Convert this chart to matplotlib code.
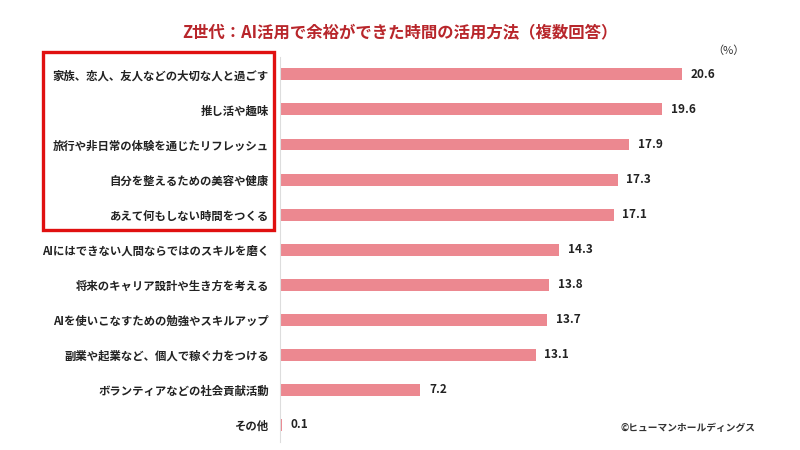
import matplotlib
matplotlib.use("Agg")
import matplotlib.pyplot as plt
from matplotlib.patches import Rectangle

plt.rcParams['font.family'] = ['Noto Sans CJK JP', 'DejaVu Sans']

categories = [
    "家族、恋人、友人などの大切な人と過ごす",
    "推し活や趣味",
    "旅行や非日常の体験を通じたリフレッシュ",
    "自分を整えるための美容や健康",
    "あえて何もしない時間をつくる",
    "AIにはできない人間ならではのスキルを磨く",
    "将来のキャリア設計や生き方を考える",
    "AIを使いこなすための勉強やスキルアップ",
    "副業や起業など、個人で稼ぐ力をつける",
    "ボランティアなどの社会貢献活動",
    "その他",
]
values = [20.6, 19.6, 17.9, 17.3, 17.1, 14.3, 13.8, 13.7, 13.1, 7.2, 0.1]
title = "Z世代：AI活用で余裕ができた時間の活用方法（複数回答）"
unit = "（%）"
credit = "©ヒューマンホールディングス"

bar_color = "#ec8890"
title_color = "#b8262b"

fig = plt.figure(figsize=(8, 4.5), dpi=100)
ax = fig.add_axes([0.35, 0.0167, 0.60, 0.857])

ypos = list(range(len(categories)))
ax.barh(ypos, values, height=0.34, color=bar_color, zorder=2)
ax.set_ylim(len(categories) - 0.5, -0.5)
ax.set_xlim(0, 24.6)

for y, v in zip(ypos, values):
    ax.text(v + 0.45, y, f"{v:.1f}", va="center", ha="left", fontsize=8.5,
            fontweight="bold", color="#222222")

ax.set_yticks(ypos)
ax.set_yticklabels(categories, fontsize=8.2, fontweight="bold", color="#222222")
ax.tick_params(axis="y", length=0, pad=8)
ax.set_xticks([])
for s in ["top", "right", "bottom"]:
    ax.spines[s].set_visible(False)
ax.spines["left"].set_color("#dddddd")
ax.spines["left"].set_linewidth(0.8)

fig.text(0.5, 0.927, title, ha="center", va="center", fontsize=11.8,
         fontweight="bold", color=title_color)
fig.text(0.91, 0.888, unit, ha="center", va="center", fontsize=8, color="#333333")
fig.text(0.86, 0.048, credit, ha="center", va="center", fontsize=7,
         fontweight="bold", color="#333333")

# red highlight box
fig.patches.append(Rectangle((43 / 800, 1 - 230 / 450), (274 - 43) / 800,
                             (230 - 52) / 450, transform=fig.transFigure,
                             fill=False, edgecolor="#e01010", linewidth=2.4))

fig.savefig("out.png", dpi=100, facecolor="white")
